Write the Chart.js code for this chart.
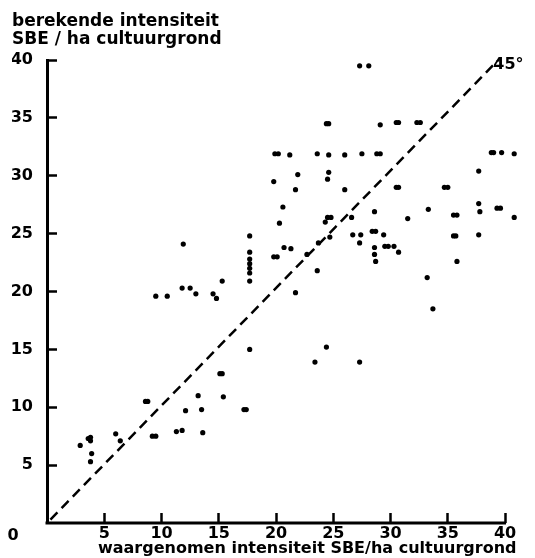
<!DOCTYPE html>
<html>
<head>
<meta charset="utf-8">
<script src="https://cdn.jsdelivr.net/npm/chart.js@4/dist/chart.umd.min.js"></script>
<style>
	html, body { margin: 0; padding: 0; background: #fff; }
	canvas { display: block; }
</style>
</head>
<body>
<canvas id="myChart" width="535" height="558"></canvas>
<script>
// waargenomen intensiteit (x) en berekende intensiteit (y), SBE/ha cultuurgrond
const observed = [
	27.3, 28.1, 24.4, 24.6, 29.1, 30.5, 30.7, 32.3, 32.6,
	19.9, 20.2, 21.2, 23.6, 24.6, 26.0, 27.5, 28.8, 29.1, 38.8, 39.0, 39.7, 40.8,
	21.9, 24.6, 24.5, 19.8, 21.7, 26.0, 30.5, 30.7, 34.7, 35.0, 37.7,
	20.6, 28.6, 33.3, 37.7, 37.8, 39.3, 39.6, 40.8, 35.5, 35.8, 31.5,
	24.5, 24.8, 24.3, 26.6, 20.3,
	24.7, 26.7, 27.4, 27.3, 28.4, 28.7, 29.4, 35.5, 35.7, 37.7,
	29.5, 29.8, 30.3, 30.7, 28.6, 28.6, 28.7, 20.7, 21.3, 19.8, 20.1,
	23.7, 22.7, 23.6, 35.8, 33.2, 21.7, 33.7, 24.4, 23.4, 27.3,
	9.5, 10.5, 11.8, 12.5, 13.0, 14.5, 14.8, 15.3, 17.7, 17.7,
	13.2, 15.1, 15.3, 15.4, 8.6, 8.8, 12.1, 13.5, 17.2, 17.4,
	9.2, 9.5, 11.3, 11.8, 13.6, 6.0, 6.4, 2.9, 3.6, 3.8, 3.8, 3.9, 3.8,
	11.9, 17.7, 17.7, 17.7, 17.7, 17.7, 17.7
];
const calculated = [
	39.5, 39.5, 34.5, 34.5, 34.4, 34.6, 34.6, 34.6, 34.6,
	31.9, 31.9, 31.8, 31.9, 31.8, 31.8, 31.9, 31.9, 31.9, 32.0, 32.0, 32.0, 31.9,
	30.1, 30.3, 29.7, 29.5, 28.8, 28.8, 29.0, 29.0, 29.0, 29.0, 30.4,
	27.3, 26.9, 27.1, 27.6, 26.9, 27.2, 27.2, 26.4, 26.6, 26.6, 26.3,
	26.4, 26.4, 26.0, 26.4, 25.9,
	24.7, 24.9, 24.9, 24.2, 25.2, 25.2, 24.9, 24.8, 24.8, 24.9,
	23.9, 23.9, 23.9, 23.4, 23.8, 23.2, 22.6, 23.8, 23.7, 23.0, 23.0,
	24.2, 23.2, 21.8, 22.6, 21.2, 19.9, 18.5, 15.2, 13.9, 13.9,
	19.6, 19.6, 20.3, 20.3, 19.8, 19.8, 19.4, 20.9, 20.9, 15.0,
	11.0, 12.9, 12.9, 10.9, 10.5, 10.5, 9.7, 9.8, 9.8, 9.8,
	7.5, 7.5, 7.9, 8.0, 7.8, 7.7, 7.1, 6.7, 7.3, 7.1, 7.4, 6.0, 5.3,
	24.1, 24.8, 23.4, 22.8, 22.4, 22.0, 21.6
];

// 45 graden lijn
const diagonalX = [0.3, 40.0];
const diagonalY = [0.3, 40.6];

const tickValues = [5, 10, 15, 20, 25, 30, 35, 40];

const yTitle = ['berekende intensiteit', 'SBE / ha cultuurgrond'];
const xTitle = 'waargenomen intensiteit SBE/ha cultuurgrond';

const FONT = 'DejaVu Sans';

const points = observed.map((x, i) => ({ x: x, y: calculated[i] }));
const diagonal = diagonalX.map((x, i) => ({ x: x, y: diagonalY[i] }));

// x-as stopt bij 40, losse "0" in de hoek en het 45° label
const extras = {
	id: 'extras',
	afterDraw(chart) {
		const ctx = chart.ctx;
		const xs = chart.scales.x;
		const ys = chart.scales.y;
		const x0 = xs.getPixelForValue(0);
		const y0 = ys.getPixelForValue(0);
		ctx.save();
		ctx.setLineDash([]);
		ctx.strokeStyle = '#000';
		ctx.lineWidth = 3;
		ctx.beginPath();
		ctx.moveTo(x0 - 1.5, y0);
		ctx.lineTo(xs.getPixelForValue(40) + 1, y0);
		ctx.stroke();
		ctx.fillStyle = '#000';
		ctx.font = 'bold 16px ' + FONT;
		ctx.textAlign = 'center';
		ctx.textBaseline = 'middle';
		ctx.fillText('0', 13, 536);
		ctx.fillText('45°', xs.getPixelForValue(40.3), ys.getPixelForValue(39.6));
		ctx.restore();
	}
};

// ticks naar binnen: negatieve tickLength, niet over het plotvlak
const inwardGrid = {
	display: true,
	drawOnChartArea: false,
	drawTicks: true,
	tickLength: -10,
	tickWidth: 2.5,
	tickColor: '#000',
	color: '#000'
};

new Chart(document.getElementById('myChart'), {
	type: 'scatter',
	data: {
		datasets: [{
			data: points,
			backgroundColor: '#000',
			borderWidth: 0,
			pointRadius: 2.6,
			clip: false
		}, {
			type: 'line',
			data: diagonal,
			borderColor: '#000',
			borderWidth: 2.5,
			borderDash: [10, 6],
			pointRadius: 0,
			fill: false
		}]
	},
	options: {
		responsive: false,
		animation: false,
		devicePixelRatio: 1,
		layout: { padding: { left: 12, right: 18.5, top: 0, bottom: 0 } },
		plugins: {
			legend: { display: false },
			tooltip: { enabled: false },
			title: {
				display: true,
				text: yTitle,
				align: 'start',
				color: '#000',
				font: { family: FONT, size: 17, weight: 'bold', lineHeight: 1.1 },
				padding: { top: 12, bottom: 10.6 }
			}
		},
		scales: {
			x: {
				type: 'linear',
				min: 0,
				max: 41,
				grid: inwardGrid,
				border: { display: false },
				afterFit: (scale) => { scale.height = 35; },
				afterBuildTicks: (scale) => {
					scale.ticks = tickValues.map(v => ({ value: v }));
				},
				ticks: {
					padding: 11,
					color: '#000',
					font: { family: FONT, size: 16, weight: 'bold' }
				},
				title: {
					display: true,
					text: xTitle,
					align: 'end',
					color: '#000',
					font: { family: FONT, size: 16, weight: 'bold', lineHeight: 1.2 },
					padding: { top: 0, bottom: 0 }
				}
			},
			y: {
				type: 'linear',
				min: 0,
				max: 40,
				grid: inwardGrid,
				border: { display: true, color: '#000', width: 3 },
				afterFit: (scale) => { scale.width = 35; },
				afterBuildTicks: (scale) => {
					scale.ticks = tickValues.map(v => ({ value: v }));
				},
				ticks: {
					padding: 24,
					color: '#000',
					font: { family: FONT, size: 16, weight: 'bold' }
				}
			}
		}
	},
	plugins: [extras]
});
</script>
</body>
</html>
